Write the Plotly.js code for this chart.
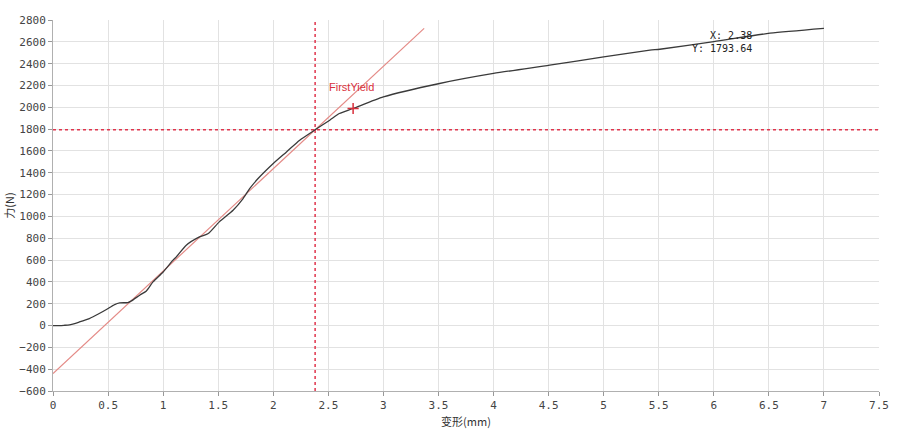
<!DOCTYPE html>
<html>
<head>
<meta charset="utf-8">
<script src="https://cdn.plot.ly/plotly-3.0.1.min.js"></script>
<style>html,body{margin:0;padding:0;background:#fff;}#chart{width:900px;height:438px;}</style>
</head>
<body>
<div id="chart"></div>
<script>
// Force-deformation curve (deformation mm, force N)
var deformation = [0, 0.05, 0.10, 0.15, 0.24, 0.33, 0.42, 0.485, 0.56, 0.606, 0.68, 0.712, 0.787, 0.848, 0.908, 1.0, 1.09, 1.12, 1.21, 1.33, 1.41, 1.51, 1.635, 1.726, 1.787, 1.862, 2.0, 2.12, 2.24, 2.38, 2.513, 2.60, 2.725, 3.0, 3.51, 4.0, 4.51, 5.0, 5.42, 5.51, 6.0, 6.51, 7.0];
var force = [0, 0, 2, 6, 33, 64, 110, 147, 192, 207, 211, 226, 278, 317, 400, 491, 599, 629, 736, 812, 843, 950, 1057, 1164, 1256, 1347, 1485, 1591, 1698, 1793.64, 1882, 1943, 1989, 2095, 2218, 2310, 2386, 2462, 2523, 2532, 2602, 2679, 2724];

// Elastic (offset) line
var offsetX = [0, 3.37];
var offsetY = [-440, 2723];

// Cursor / yield readout
var cursorX = 2.38;
var cursorY = 1793.64;
var yieldX = [2.725];
var yieldY = [1989];
var yieldLabel = "FirstYield";

var xRange = [0, 7.5];
var yRange = [-600, 2800];

var red = '#e0344c';
var traces = [
  {x: offsetX, y: offsetY, mode: 'lines', line: {color: '#e48a86', width: 1.2}, hoverinfo: 'skip'},
  {x: [cursorX, cursorX], y: yRange, mode: 'lines', line: {color: red, width: 1.5, dash: 'dot'}, hoverinfo: 'skip'},
  {x: xRange, y: [cursorY, cursorY], mode: 'lines', line: {color: red, width: 1.5, dash: 'dot'}, hoverinfo: 'skip'},
  {x: deformation, y: force, mode: 'lines', line: {color: '#3a3a3a', width: 1.3, shape: 'spline', smoothing: 0.6}, hoverinfo: 'skip'},
  {x: yieldX, y: yieldY, mode: 'markers', marker: {symbol: 'cross-thin', size: 8, line: {color: '#d8303c', width: 1.5}}, hoverinfo: 'skip'}
];

var tickFont = {family: 'DejaVu Sans Mono, monospace', size: 11, color: '#444'};
var layout = {
  width: 900, height: 438,
  margin: {l: 53, r: 21, t: 20, b: 47},
  paper_bgcolor: '#fff', plot_bgcolor: '#fff',
  showlegend: false,
  xaxis: {
    range: xRange, dtick: 0.5, tick0: 0,
    showgrid: true, gridcolor: '#e2e2e2', gridwidth: 1,
    zeroline: false, showline: true, linecolor: '#b0b0b0', linewidth: 1,
    ticks: 'outside', ticklen: 4, tickcolor: '#999',
    tickfont: tickFont,
    title: {text: '变形(mm)', font: {family: 'Noto Sans CJK SC', size: 11, color: '#333'}, standoff: 7}
  },
  yaxis: {
    range: yRange, dtick: 200, tick0: 0,
    showgrid: true, gridcolor: '#e2e2e2', gridwidth: 1,
    zeroline: false, showline: true, linecolor: '#b0b0b0', linewidth: 1,
    ticks: 'outside', ticklen: 4, tickcolor: '#999',
    tickfont: tickFont,
    title: {text: '力(N)', font: {family: 'Noto Sans CJK SC', size: 11, color: '#333'}, standoff: 2}
  },
  annotations: [
    {x: 2.71, y: 2190, xref: 'x', yref: 'y', text: yieldLabel, showarrow: false,
     font: {family: 'Liberation Sans, Arial', size: 11, color: '#d8303c'}},
    {x: 5.78, y: 2600, xref: 'x', yref: 'y', xanchor: 'left', align: 'left', showarrow: false,
     text: '&nbsp;&nbsp;&nbsp;X: ' + cursorX.toFixed(2) + '<br>Y: ' + cursorY.toFixed(2),
     font: {family: 'DejaVu Sans Mono, monospace', size: 10, color: '#222'}}
  ]
};
Plotly.newPlot('chart', traces, layout, {displayModeBar: false, staticPlot: true});
</script>
</body>
</html>
